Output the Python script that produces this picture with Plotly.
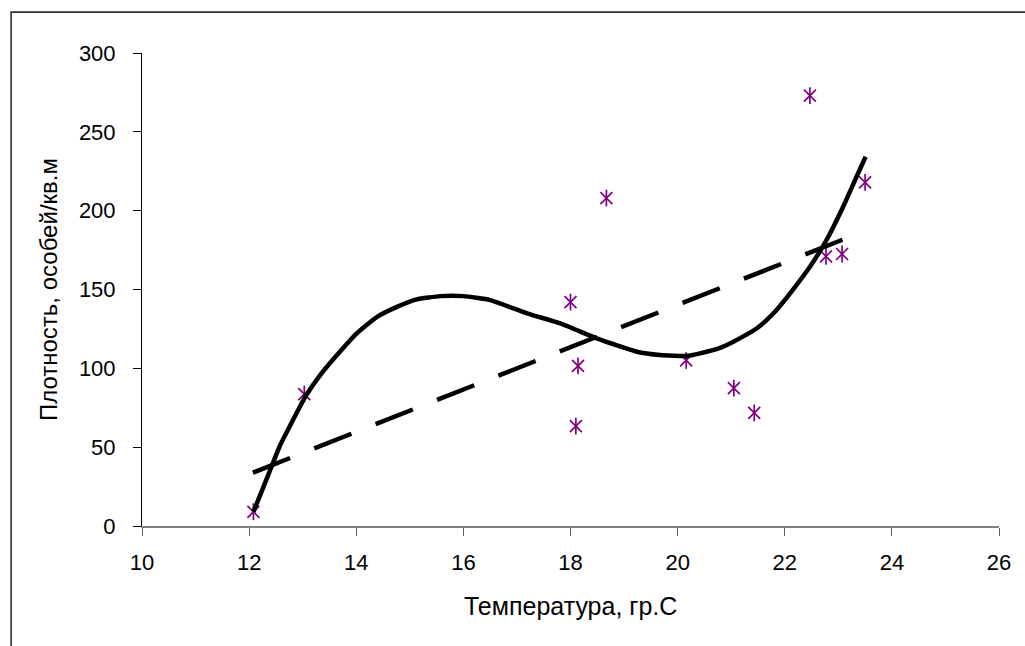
import plotly.graph_objects as go

# Observed data (temperature vs density)
temp = [12.08, 13.03, 18.0, 18.14, 18.1, 18.67, 20.16, 21.05, 21.43, 22.47, 22.77, 23.07, 23.5]
density = [9, 83.7, 142, 101.5, 63.4, 208, 105, 87.5, 71.7, 273, 171, 172.5, 218]

# Polynomial (cubic) trend curve
curve_x = [12.08, 12.27, 12.43, 12.58, 12.77, 13.05, 13.33, 13.64, 14.01, 14.39, 14.76,
           15.13, 15.57, 16.0, 16.5, 17.19, 17.81, 18.49, 19.24, 19.67, 20.17, 20.42,
           20.79, 21.04, 21.48, 21.79, 22.1, 22.47, 22.78, 23.09, 23.34, 23.51]
curve_y = [9, 25, 38.7, 51.4, 64, 82, 95.8, 108.4, 122.2, 132.7, 139,
           143.7, 145.8, 145.8, 143.3, 134.9, 128.5, 119, 110.5, 108.4, 107.8, 109.5,
           113, 116.9, 125.4, 134.9, 147.6, 164.4, 181.4, 202.5, 221.5, 234.2]

# Linear trend line endpoints
lin_x = [12.07, 23.11]
lin_y = [33.8, 182]

x_ticks = [10, 12, 14, 16, 18, 20, 22, 24, 26]
y_ticks = [0, 50, 100, 150, 200, 250, 300]

x_title = "Температура, гр.С"
y_title = "Плотность, особей/кв.м"

FONT = "Liberation Sans, Arial, sans-serif"
PURPLE = "#800080"

fig = go.Figure()

# Star markers: X part + vertical bar
fig.add_trace(go.Scatter(x=temp, y=density, mode="markers", showlegend=False,
                         marker=dict(symbol="x-thin-open", size=12, color=PURPLE,
                                     line=dict(color=PURPLE, width=1.7))))
fig.add_trace(go.Scatter(x=temp, y=density, mode="markers", showlegend=False,
                         marker=dict(symbol="line-ns-open", size=12, color=PURPLE,
                                     line=dict(color=PURPLE, width=1.7))))

fig.add_trace(go.Scatter(x=lin_x, y=lin_y, mode="lines", showlegend=False,
                         line=dict(color="black", width=4.5, dash="40px,26px")))
fig.add_trace(go.Scatter(x=curve_x, y=curve_y, mode="lines", showlegend=False,
                         line=dict(color="black", width=4.5, shape="spline", smoothing=0.5)))

L, R, T, B = 141.5, 25.7, 53.3, 120
W, H = 1025, 646
pw = W - L - R
ph = H - T - B

def px_to_paper_x(px):
    return (px - L) / pw

def px_to_paper_y(py):
    return (H - B - py) / ph

fig.update_layout(
    width=W, height=H, autosize=False,
    margin=dict(l=L, r=R, t=T, b=B, pad=0),
    paper_bgcolor="white", plot_bgcolor="white",
    font=dict(family=FONT, size=22, color="black"),
    xaxis=dict(range=[10, 26], tickvals=x_ticks, ticktext=[str(v) for v in x_ticks],
               showgrid=False, zeroline=False, showline=True, linecolor="#808080",
               linewidth=1.5, ticks="outside", ticklen=8, tickcolor="#606060",
               tickwidth=1.2, ticklabelstandoff=8, fixedrange=True),
    yaxis=dict(range=[0, 300], tickvals=y_ticks, ticktext=[str(v) for v in y_ticks],
               showgrid=False, zeroline=False, showline=True, linecolor="black",
               linewidth=1, ticks="outside", ticklen=8, tickcolor="black",
               tickwidth=1, ticklabelstandoff=13, fixedrange=True),
    annotations=[
        dict(text=x_title, xref="paper", yref="paper", x=0.5, y=px_to_paper_y(606),
             xanchor="center", yanchor="middle", showarrow=False,
             font=dict(family=FONT, size=25)),
        dict(text=y_title, xref="paper", yref="paper", x=px_to_paper_x(48), y=0.5,
             xanchor="center", yanchor="middle", showarrow=False, textangle=-90,
             font=dict(family=FONT, size=24)),
    ],
    shapes=[
        dict(type="rect", xref="paper", yref="paper",
             x0=px_to_paper_x(10.5), y1=px_to_paper_y(12.5), x1=1.3, y0=-0.5,
             line=dict(color="#303030", width=1.6), fillcolor="rgba(0,0,0,0)", layer="above"),
    ],
)

fig.write_html("out.html")
